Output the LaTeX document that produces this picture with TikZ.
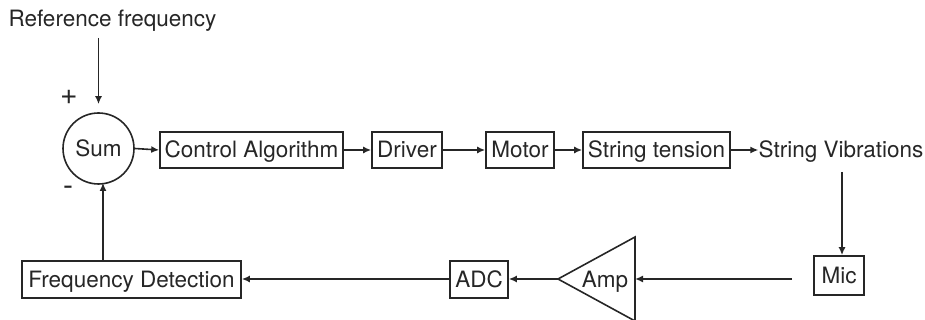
\documentclass[tikz,border=0pt]{standalone}
\usepackage{fontspec}
\setmainfont{TeX Gyre Heros}
\usetikzlibrary{arrows.meta}
\begin{document}
\begin{tikzpicture}[x=1pt,y=-1pt,
  every node/.style={font=\fontsize{22.5}{26}\selectfont, text=black!85},
  blk/.style={draw=black!85, line width=1.6pt, inner sep=0pt, minimum height=36pt, text height=15.5pt, text depth=0pt},
  lbl/.style={inner sep=2pt},
  conn/.style={draw=black!85, line width=1.6pt, -{Latex[length=8pt,width=7pt]}},
  plain/.style={draw=black!85, line width=1.6pt}
]
\useasboundingbox (0,0) rectangle (925,320);
\node[lbl] (ref) at (112.5,21) {Reference frequency};
\node[draw=black!85, line width=1.6pt, circle, minimum size=71pt, inner sep=0pt, text height=15.5pt, text depth=0pt] (sum) at (98.5,148.5) {Sum};
\node[lbl, font=\fontsize{30}{34}\selectfont] (plus) at (69,97) {+};
\node[lbl, font=\fontsize{30}{34}\selectfont] (minus) at (68,191) {-};
\node[blk, minimum width=183pt] (ctrl) at (251.5,150) {Control Algorithm};
\node[blk, minimum width=70pt] (drv) at (407,150) {Driver};
\node[blk, minimum width=68pt] (mot) at (520,150) {Motor};
\node[blk, minimum width=147pt] (ten) at (656.5,150) {String tension};
\node[inner sep=0pt, text height=15.5pt, text depth=0pt] (vib) at (841,150) {String Vibrations};
\node[blk, minimum width=50pt, minimum height=39pt] (mic) at (839,275.5) {Mic};
\node[inner sep=0pt, text height=15.5pt, text depth=0pt] (amp) at (605,280) {Amp};
\coordinate (ampR) at (635,279);
\coordinate (ampL) at (558,279);
\draw[plain, line join=miter] (635,237) -- (635,321) -- (ampL) -- cycle;
\node[blk, minimum width=58pt, minimum height=37pt] (adc) at (479,279.5) {ADC};
\node[blk, minimum width=219pt, minimum height=37pt] (fd) at (131.5,279.5) {Frequency Detection};

\draw[conn, shorten >=8pt] (ref.south -| sum.north) ++(0,4) -- (sum.north);
\draw[conn] (sum.east) -- (ctrl.west);
\draw[conn] (ctrl.east) -- (drv.west);
\draw[conn] (drv.east) -- (mot.west);
\draw[conn] (mot.east) -- (ten.west);
\draw[conn] (ten.east) -- (vib.west);
\draw[conn] ([xshift=1pt,yshift=-14pt]vib.south) -- ([xshift=3pt]mic.north);
\draw[conn, shorten <=21pt] (mic.west |- ampR) -- (ampR);
\draw[conn] (ampL) -- (adc.east |- ampL);
\draw[conn] (adc.west |- ampL) -- (fd.east |- ampL);
\draw[conn] ([xshift=-28.5pt]fd.north) -- ++(0,-77.3);
\end{tikzpicture}
\end{document}
